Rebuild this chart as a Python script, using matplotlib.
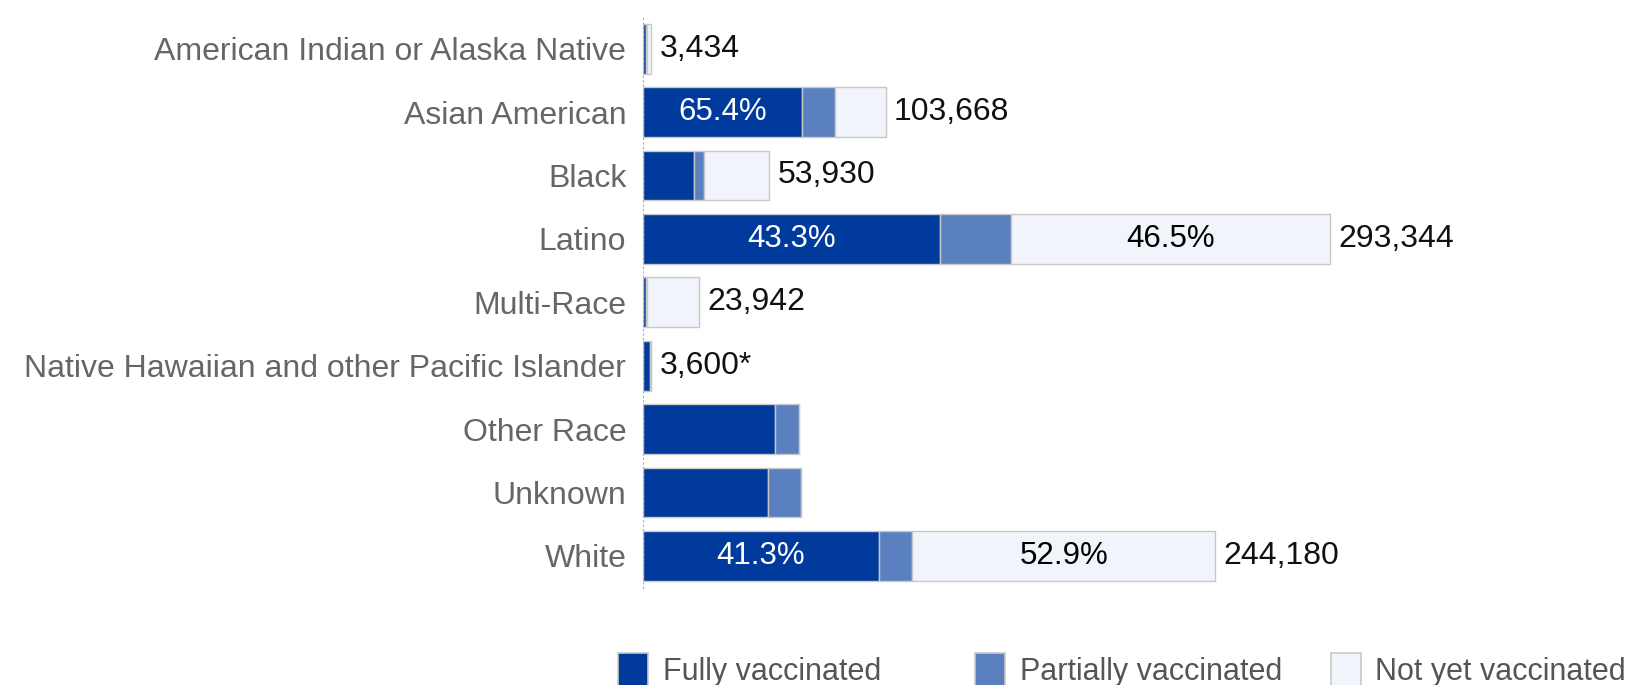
"""
Vaccination status by race / ethnicity - stacked horizontal bars
"""
import matplotlib
matplotlib.use('Agg')
import matplotlib.pyplot as plt
from matplotlib.patches import Rectangle

# ── data ─────────────────────────────────────────────────────────────
categories = [
    'American Indian or Alaska Native', 'Asian American', 'Black', 'Latino',
    'Multi-Race', 'Native Hawaiian and other Pacific Islander',
    'Other Race', 'Unknown', 'White',
]
totals = [3434, 103668, 53930, 293344, 23942, 3600, 66500, 67500, 244180]
total_labels = ['3,434', '103,668', '53,930', '293,344', '23,942', '3,600*',
                '', '', '244,180']
pct_full = [40.0, 65.4, 40.5, 43.3, 6.0, 85.0, 85.0, 79.0, 41.3]
pct_partial = [8.0, 13.7, 8.0, 10.2, 1.0, 5.0, 15.0, 21.0, 5.8]
pct_not = [52.0, 20.9, 51.5, 46.5, 93.0, 10.0, 0.0, 0.0, 52.9]
series_names = ['Fully vaccinated', 'Partially vaccinated', 'Not yet vaccinated']

COLORS = ['#003a9c', '#5a80c0', '#f1f4fb']
TEXT_COLORS = ['white', 'black', 'black']
EDGE = '#c8c8c8'

plt.rcParams['font.family'] = ['Liberation Sans', 'DejaVu Sans']

fig = plt.figure(figsize=(16.26, 6.85), dpi=100)
ax = fig.add_axes([0.3954, 0.1423, 0.5763, 0.8329])

y = list(range(len(categories)))
lefts = [0.0] * len(categories)
for s, pcts in enumerate([pct_full, pct_partial, pct_not]):
    widths = [t * p / 100 for t, p in zip(totals, pcts)]
    ax.barh(y, widths, left=lefts, height=0.785, color=COLORS[s],
            edgecolor=EDGE, linewidth=1.0)
    for i, (w, p) in enumerate(zip(widths, pcts)):
        # only big segments of rows with a known total get a % label
        if total_labels[i] and w > 50000:
            ax.text(lefts[i] + w / 2, i, f'{p:.1f}%', ha='center', va='center',
                    fontsize=22.5, color=TEXT_COLORS[s])
    lefts = [l + w for l, w in zip(lefts, widths)]

for i, lab in enumerate(total_labels):
    if lab:
        ax.annotate(lab, (totals[i], i), xytext=(6, 0), textcoords='offset points',
                    ha='left', va='center', fontsize=23, color='#111111')

ax.set_xlim(0, 400000)
ax.set_ylim(len(categories) - 0.5, -0.5)
ax.set_yticks(y)
ax.set_yticklabels(categories, fontsize=23, color='#666666')
ax.tick_params(axis='y', length=0, pad=12)
ax.set_xticks([])
ax.spines[['top', 'right', 'bottom']].set_visible(False)
ax.spines['left'].set_linestyle((0, (1, 3)))
ax.spines['left'].set_color('#aaaaaa')

# ── legend along the bottom edge ─────────────────────────────────────
leg_x = [0.380, 0.5995, 0.8183]
for name, c, x0 in zip(series_names, COLORS, leg_x):
    fig.patches.append(Rectangle((x0, -0.01), 0.0185, 0.057, transform=fig.transFigure,
                                 facecolor=c, edgecolor=EDGE, linewidth=1.2))
    fig.text(x0 + 0.0275, 0.008, name, fontsize=22, color='#555555', va='baseline')

fig.savefig('out.png', dpi=100)
